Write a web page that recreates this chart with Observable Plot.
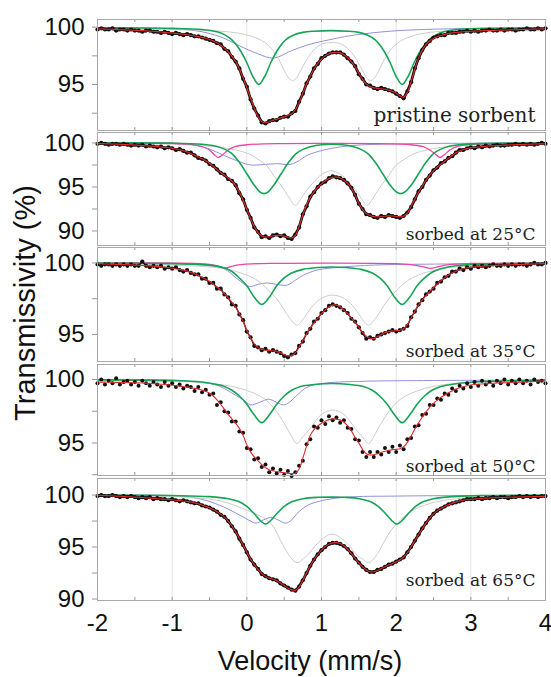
<!DOCTYPE html>
<html><head><meta charset="utf-8">
<script src="https://cdn.jsdelivr.net/npm/d3@7"></script>
<script src="https://cdn.jsdelivr.net/npm/@observablehq/plot@0.6"></script>
<style>
body{margin:0;background:#fff;}
#chart{position:relative;width:551px;height:677px;background:#fff;overflow:hidden;}
#chart svg{position:absolute;left:0;}
</style></head>
<body><div id="chart"></div>
<script>
// ---------- data ----------
const velocity = [
-2,-1.95,-1.9,-1.85,-1.8,-1.75,-1.7,-1.65,-1.6,-1.55,
-1.5,-1.45,-1.4,-1.35,-1.3,-1.25,-1.2,-1.15,-1.1,-1.05,
-1,-0.95,-0.9,-0.85,-0.8,-0.75,-0.7,-0.65,-0.6,-0.55,
-0.5,-0.45,-0.4,-0.35,-0.3,-0.25,-0.2,-0.15,-0.1,-0.05,
0,0.05,0.1,0.15,0.2,0.25,0.3,0.35,0.4,0.45,
0.5,0.55,0.6,0.65,0.7,0.75,0.8,0.85,0.9,0.95,
1,1.05,1.1,1.15,1.2,1.25,1.3,1.35,1.4,1.45,
1.5,1.55,1.6,1.65,1.7,1.75,1.8,1.85,1.9,1.95,
2,2.05,2.1,2.15,2.2,2.25,2.3,2.35,2.4,2.45,
2.5,2.55,2.6,2.65,2.7,2.75,2.8,2.85,2.9,2.95,
3,3.05,3.1,3.15,3.2,3.25,3.3,3.35,3.4,3.45,
3.5,3.55,3.6,3.65,3.7,3.75,3.8,3.85,3.9,3.95,
4];

const panelLabels = ["pristine sorbent","sorbed at 25°C","sorbed at 35°C","sorbed at 50°C","sorbed at 65°C"];
const xTickLabels = [-2,-1,0,1,2,3,4];
const xGrid = [-1,0,1,2,3];
const xMinorTicks = [-1.5,-1,-0.5,0,0.5,1,1.5,2,2.5,3,3.5];
const yTicksP1 = [92.5,95,97.5,100];
const yTicksP2 = [90,92.5,95,97.5,100];
const yTicksP3 = [95,97.5,100];
const yTicksP4 = [92.5,95,97.5,100];
const yTicksP5 = [90,92.5,95,97.5,100];

// Panel 1: pristine sorbent
const p1Fit = [
99.85,99.84,99.83,99.82,99.81,99.8,99.78,99.77,99.76,99.74,
99.73,99.71,99.7,99.68,99.66,99.63,99.61,99.58,99.55,99.52,
99.49,99.46,99.42,99.38,99.34,99.29,99.24,99.18,99.11,99.03,
98.93,98.8,98.63,98.43,98.18,97.87,97.48,96.98,96.36,95.6,
94.72,93.8,92.92,92.2,91.76,91.66,91.76,91.88,91.98,92.08,
92.18,92.3,92.45,92.8,93.4,94.25,95.05,95.75,96.35,96.85,
97.22,97.5,97.68,97.78,97.82,97.76,97.6,97.35,97.0,96.55,
96.0,95.45,95.05,94.82,94.72,94.66,94.62,94.58,94.5,94.4,
94.25,94.02,93.9,94.3,95.25,96.35,97.3,98.0,98.5,98.82,
99.02,99.17,99.28,99.37,99.44,99.5,99.54,99.57,99.6,99.62,
99.64,99.66,99.67,99.69,99.7,99.71,99.72,99.73,99.74,99.75,
99.76,99.77,99.78,99.79,99.8,99.81,99.82,99.83,99.84,99.85,
99.86];
const p1Data = [
99.8,99.9,99.8,99.8,99.9,99.7,99.8,99.8,99.7,99.8,
99.7,99.7,99.6,99.7,99.7,99.6,99.6,99.5,99.6,99.5,
99.4,99.5,99.4,99.3,99.4,99.3,99.2,99.2,99.1,99.0,
98.9,98.8,98.6,98.5,98.1,97.9,97.4,97.0,96.4,95.5,
94.8,93.7,92.9,92.3,91.7,91.6,91.8,91.9,91.9,92.1,
92.2,92.2,92.5,92.7,93.5,94.2,95.1,95.7,96.4,96.8,
97.3,97.5,97.7,97.8,97.8,97.8,97.6,97.3,97.0,96.6,
95.9,95.5,95.0,94.9,94.7,94.6,94.7,94.6,94.5,94.4,
94.2,94.0,93.8,94.4,95.2,96.4,97.3,98.0,98.5,98.8,
99.1,99.2,99.3,99.3,99.5,99.5,99.5,99.6,99.6,99.7,
99.6,99.7,99.6,99.7,99.7,99.8,99.7,99.7,99.8,99.7,
99.8,99.8,99.7,99.8,99.8,99.9,99.8,99.8,99.9,99.8,
99.9];
const p1Green = [[-2,99.95],[-1.5,99.93],[-1,99.9],[-0.6,99.8],[-0.4,99.6],[-0.3,99.35],[-0.2,98.9],[-0.1,98.1],[0,96.9],[0.08,95.7],[0.16,95.0],[0.24,95.7],[0.32,96.9],[0.42,98.1],[0.52,98.9],[0.62,99.3],[0.75,99.55],[0.9,99.65],[1.12,99.7],[1.35,99.65],[1.5,99.55],[1.62,99.3],[1.72,98.9],[1.82,98.1],[1.92,96.9],[2.0,95.7],[2.08,95.0],[2.16,95.7],[2.24,96.9],[2.34,98.1],[2.44,98.9],[2.54,99.35],[2.64,99.6],[2.8,99.8],[3.2,99.9],[4,99.95]];
const p1Gray = [[-2,99.88],[-1.5,99.84],[-1,99.8],[-0.5,99.7],[-0.2,99.56],[0,99.33],[0.1,99.12],[0.2,98.84],[0.3,98.34],[0.4,97.5],[0.5,96.25],[0.56,95.57],[0.61,95.34],[0.66,95.53],[0.72,96.2],[0.82,97.36],[0.92,98.15],[1.02,98.57],[1.135,98.65],[1.25,98.57],[1.35,98.15],[1.45,97.36],[1.55,96.2],[1.61,95.53],[1.66,95.34],[1.71,95.57],[1.77,96.25],[1.87,97.5],[1.97,98.34],[2.07,98.84],[2.17,99.12],[2.27,99.33],[2.47,99.56],[2.77,99.7],[3.27,99.8],[4,99.86]];
const p1Blue = [[-2,99.95],[-1.2,99.9],[-0.76,99.75],[-0.53,99.5],[-0.31,99.05],[-0.09,98.35],[0.14,97.7],[0.36,97.3],[0.58,97.9],[0.81,98.45],[1.03,98.8],[1.25,99.1],[1.48,99.35],[1.92,99.65],[2.37,99.8],[3,99.88],[4,99.92]];

// Panel 2: sorbed at 25 C
const p2Fit = [
99.95,99.93,99.92,99.9,99.89,99.87,99.85,99.83,99.81,99.79,
99.77,99.74,99.71,99.68,99.65,99.62,99.58,99.54,99.5,99.45,
99.39,99.31,99.22,99.11,98.97,98.8,98.61,98.41,98.2,97.97,
97.7,97.35,96.98,96.65,96.33,96.02,95.68,95.15,94.42,93.5,
92.45,91.42,90.5,89.82,89.42,89.3,89.36,89.45,89.5,89.5,
89.4,89.28,89.22,89.5,90.5,91.85,92.95,93.8,94.45,94.95,
95.35,95.7,95.95,96.1,96.12,96.02,95.78,95.42,94.88,94.05,
93.15,92.45,92.0,91.75,91.65,91.6,91.62,91.68,91.72,91.7,
91.65,91.6,91.68,92.02,92.78,93.62,94.4,95.1,95.75,96.35,
96.85,97.25,97.6,97.92,98.25,98.58,98.88,99.1,99.25,99.36,
99.44,99.5,99.55,99.59,99.63,99.66,99.69,99.71,99.73,99.75,
99.77,99.79,99.8,99.82,99.83,99.85,99.86,99.88,99.89,99.9,
99.92];
const p2Data = [
99.9,100.0,99.9,99.8,99.9,99.9,99.8,99.9,99.8,99.7,
99.8,99.7,99.8,99.6,99.7,99.6,99.5,99.6,99.4,99.5,
99.4,99.2,99.3,99.1,98.9,98.9,98.6,98.3,98.2,98.0,
97.6,97.4,97.0,96.6,96.4,95.9,95.7,95.2,94.3,93.6,
92.4,91.5,90.4,89.9,89.3,89.4,89.2,89.5,89.6,89.4,
89.5,89.2,89.1,89.6,90.4,91.9,92.8,93.9,94.4,95.0,
95.4,95.6,96.0,96.2,96.1,96.0,95.8,95.4,94.9,94.1,
93.1,92.5,91.9,91.8,91.6,91.5,91.7,91.6,91.8,91.7,
91.6,91.5,91.7,92.1,92.7,93.6,94.5,95.0,95.8,96.3,
96.9,97.2,97.7,97.9,98.3,98.5,98.9,99.2,99.2,99.4,
99.5,99.4,99.6,99.5,99.7,99.6,99.7,99.8,99.7,99.7,
99.8,99.8,99.9,99.8,99.9,99.8,99.9,99.8,99.9,100.0,
99.9];
const p2Green = [[-2,100],[-1,99.98],[-0.6,99.85],[-0.4,99.6],[-0.3,99.3],[-0.2,98.8],[-0.1,97.8],[0,96.5],[0.1,95.2],[0.18,94.4],[0.23,94.25],[0.28,94.4],[0.36,95.2],[0.46,96.5],[0.56,97.8],[0.66,98.8],[0.76,99.3],[0.86,99.6],[1.0,99.8],[1.14,99.85],[1.28,99.8],[1.42,99.6],[1.52,99.3],[1.62,98.8],[1.72,97.8],[1.82,96.5],[1.92,95.2],[2.01,94.4],[2.06,94.25],[2.11,94.4],[2.2,95.2],[2.3,96.5],[2.4,97.8],[2.5,98.8],[2.6,99.3],[2.7,99.6],[2.9,99.85],[3.3,99.97],[4,100]];
const p2Gray = [[-2,99.95],[-1,99.85],[-0.6,99.7],[-0.3,99.45],[0,98.85],[0.14,98.2],[0.27,97.4],[0.36,96.3],[0.49,94.8],[0.58,93.6],[0.65,92.9],[0.72,93.6],[0.8,94.6],[0.9,95.6],[1.0,96.4],[1.13,96.85],[1.26,96.4],[1.36,95.6],[1.46,94.6],[1.54,93.6],[1.61,92.9],[1.68,93.6],[1.77,94.8],[1.9,96.3],[1.99,97.4],[2.12,98.2],[2.26,98.85],[2.56,99.45],[2.86,99.7],[3.26,99.85],[4,99.95]];
const p2Blue = [[-2,100],[-1,99.95],[-0.75,99.8],[-0.53,99.4],[-0.31,98.6],[-0.09,97.85],[0.05,97.5],[0.23,97.55],[0.4,97.65],[0.58,97.55],[0.67,97.85],[0.81,98.6],[1.03,99.2],[1.25,99.55],[1.48,99.75],[2,99.9],[3,99.97],[4,100]];
const p2Pink = [[-2,100],[-1,99.95],[-0.75,99.85],[-0.6,99.6],[-0.5,99.2],[-0.44,98.7],[-0.38,98.35],[-0.32,98.7],[-0.25,99.2],[-0.15,99.6],[0,99.8],[0.5,99.93],[1.1,99.95],[1.7,99.93],[2.2,99.8],[2.35,99.6],[2.45,99.2],[2.53,98.7],[2.59,98.35],[2.65,98.7],[2.72,99.2],[2.82,99.6],[3.0,99.85],[3.5,99.95],[4,100]];

// Panel 3: sorbed at 35 C
const p3Fit = [
99.95,99.94,99.93,99.92,99.91,99.9,99.89,99.88,99.87,99.86,
99.85,99.84,99.82,99.81,99.79,99.77,99.75,99.73,99.7,99.67,
99.64,99.6,99.55,99.5,99.43,99.35,99.25,99.13,99.0,98.86,
98.7,98.52,98.32,98.1,97.86,97.58,97.25,96.9,96.45,95.9,
95.3,94.75,94.35,94.08,93.95,93.9,93.88,93.86,93.82,93.72,
93.6,93.5,93.52,93.72,94.1,94.6,95.05,95.45,95.8,96.15,
96.45,96.72,96.92,97.05,97.05,96.92,96.7,96.45,96.15,95.85,
95.5,95.15,94.88,94.72,94.72,94.85,95.0,95.12,95.2,95.24,
95.27,95.3,95.4,95.7,96.15,96.62,97.05,97.42,97.72,98.0,
98.27,98.52,98.76,98.96,99.14,99.3,99.42,99.52,99.6,99.65,
99.69,99.72,99.75,99.77,99.79,99.8,99.82,99.83,99.84,99.85,
99.86,99.87,99.88,99.89,99.9,99.91,99.92,99.93,99.94,99.95,
99.96];
const p3Data = [
99.9,99.8,99.9,99.9,99.8,99.9,99.8,99.9,99.8,99.9,
99.8,99.8,100.1,99.8,99.7,99.8,99.7,99.8,99.6,99.7,
99.6,99.7,99.5,99.4,99.5,99.3,99.2,99.2,98.9,98.9,
98.6,98.6,98.2,98.2,97.8,97.6,97.1,97.0,96.4,96.0,
95.2,94.8,94.2,94.1,93.9,94.0,93.8,93.9,93.8,93.7,
93.5,93.4,93.6,93.7,94.2,94.5,95.1,95.4,95.9,96.1,
96.5,96.7,97.0,97.1,97.0,96.9,96.7,96.5,96.1,95.9,
95.5,95.1,94.7,94.8,94.7,94.9,95.0,95.1,95.2,95.3,
95.2,95.3,95.4,95.6,96.2,96.6,97.1,97.4,97.8,98.0,
98.2,98.6,98.7,99.0,99.1,99.4,99.4,99.6,99.5,99.7,
99.6,99.8,99.7,99.8,99.7,99.8,99.9,99.8,99.8,99.9,
99.8,99.9,99.8,99.9,99.9,99.8,99.9,100.0,99.9,99.9,
100.0];
const p3Green = [[-2,100],[-1,99.95],[-0.5,99.85],[-0.3,99.65],[-0.2,99.4],[-0.1,98.95],[0,98.4],[0.1,97.6],[0.2,97.1],[0.3,97.6],[0.4,98.4],[0.5,98.95],[0.6,99.3],[0.75,99.55],[0.95,99.68],[1.14,99.72],[1.33,99.68],[1.53,99.55],[1.68,99.3],[1.78,98.95],[1.88,98.4],[1.98,97.6],[2.08,97.1],[2.18,97.6],[2.28,98.4],[2.38,98.95],[2.48,99.35],[2.6,99.6],[2.8,99.8],[3.2,99.92],[4,99.97]];
const p3Gray = [[-2,99.95],[-1,99.85],[-0.31,99.6],[0,99.15],[0.15,98.75],[0.27,98.2],[0.4,97.5],[0.49,96.8],[0.58,96.1],[0.67,95.65],[0.76,96.1],[0.85,96.8],[0.99,97.5],[1.15,97.75],[1.31,97.5],[1.45,96.8],[1.54,96.1],[1.63,95.65],[1.72,96.1],[1.81,96.8],[1.9,97.5],[2.03,98.2],[2.15,98.75],[2.3,99.15],[2.61,99.6],[3.3,99.85],[4,99.95]];
const p3Blue = [[-2,100],[-1,99.97],[-0.6,99.85],[-0.31,99.6],[-0.13,98.9],[0.03,98.35],[0.15,98.5],[0.27,98.6],[0.4,98.5],[0.54,98.45],[0.65,98.8],[0.76,99.15],[0.94,99.5],[1.25,99.7],[1.7,99.85],[2.5,99.92],[4,99.97]];
const p3Pink = [[-2,100],[-0.7,99.97],[-0.5,99.9],[-0.4,99.8],[-0.29,99.65],[-0.18,99.8],[-0.05,99.9],[0.3,99.97],[2.0,99.95],[2.2,99.88],[2.35,99.75],[2.46,99.62],[2.57,99.75],[2.7,99.88],[3.0,99.96],[4,100]];

// Panel 4: sorbed at 50 C
const p4Fit = [
99.8,99.79,99.79,99.78,99.78,99.77,99.77,99.76,99.76,99.75,
99.74,99.73,99.72,99.71,99.69,99.67,99.65,99.63,99.61,99.58,
99.55,99.52,99.48,99.44,99.4,99.35,99.3,99.24,99.17,99.07,
98.92,98.7,98.4,98.05,97.65,97.25,96.9,96.55,96.15,95.6,
94.85,94.3,93.9,93.6,93.3,93.05,92.9,92.82,92.76,92.7,
92.66,92.62,92.6,92.62,92.95,93.8,94.75,95.6,96.05,96.35,
96.55,96.72,96.84,96.9,96.88,96.8,96.65,96.35,95.95,95.45,
95.0,94.5,94.15,94.05,94.08,94.15,94.25,94.35,94.42,94.48,
94.5,94.55,94.7,95.05,95.55,96.1,96.6,97.05,97.45,97.82,
98.12,98.38,98.6,98.78,98.95,99.1,99.25,99.35,99.43,99.5,
99.56,99.6,99.63,99.65,99.67,99.69,99.7,99.72,99.73,99.74,
99.75,99.77,99.78,99.79,99.8,99.82,99.83,99.84,99.86,99.88,
99.9];
const p4Data = [
99.7,100.0,99.6,99.9,99.7,100.1,99.6,99.8,99.9,99.6,
99.8,99.5,99.9,99.7,99.5,99.8,99.6,99.4,99.8,99.5,
99.7,99.4,99.6,99.3,99.5,99.4,99.1,99.4,99.0,99.2,
98.8,98.9,98.0,98.2,97.5,97.4,96.7,96.7,95.9,95.8,
94.6,94.5,93.7,93.8,93.1,93.3,92.7,93.0,92.6,92.9,
92.5,92.8,92.4,92.7,93.2,93.6,94.9,95.3,96.3,96.2,
96.8,96.5,97.1,96.8,97.0,96.6,96.8,96.2,96.1,95.3,
95.2,94.3,93.9,94.3,93.9,94.3,94.1,94.6,94.3,94.7,
94.3,94.8,94.5,95.3,95.4,96.3,96.4,97.2,97.3,98.0,
98.0,98.5,98.4,98.9,98.8,99.3,99.1,99.5,99.3,99.7,
99.4,99.8,99.5,99.9,99.6,99.8,99.5,99.9,99.7,100.0,
99.6,99.9,99.7,100.0,99.7,99.9,99.6,100.0,99.8,99.9,
99.7];
const p4Green = [[-2,99.97],[-1,99.92],[-0.6,99.8],[-0.4,99.6],[-0.3,99.45],[-0.2,99.15],[-0.1,98.7],[0,98.05],[0.1,97.2],[0.2,96.6],[0.3,97.2],[0.4,98.05],[0.5,98.7],[0.6,99.15],[0.72,99.45],[0.9,99.6],[1.14,99.68],[1.38,99.6],[1.56,99.45],[1.68,99.15],[1.78,98.7],[1.88,98.05],[1.98,97.2],[2.08,96.6],[2.18,97.2],[2.28,98.05],[2.38,98.7],[2.48,99.15],[2.6,99.45],[2.78,99.65],[3.1,99.82],[4,99.95]];
const p4Gray = [[-2,99.95],[-1,99.85],[-0.53,99.72],[-0.09,99.3],[0.23,98.5],[0.4,97.45],[0.54,96.15],[0.61,95.4],[0.67,94.95],[0.74,95.4],[0.85,96.15],[0.99,97.2],[1.15,97.6],[1.31,97.2],[1.45,96.15],[1.56,95.4],[1.63,94.95],[1.69,95.4],[1.76,96.15],[1.9,97.45],[2.07,98.5],[2.39,99.3],[2.83,99.72],[3.3,99.85],[4,99.95]];
const p4Blue = [[-2,100],[-1,99.95],[-0.76,99.85],[-0.4,99.55],[-0.22,99.0],[-0.05,98.4],[0.05,98.0],[0.15,98.15],[0.29,98.45],[0.4,98.2],[0.49,98.0],[0.58,98.25],[0.67,98.75],[0.81,99.4],[1.03,99.7],[1.5,99.85],[2.5,99.92],[4,99.95]];

// Panel 5: sorbed at 65 C
const p5Fit = [
99.98,99.96,99.95,99.93,99.92,99.9,99.88,99.86,99.84,99.82,
99.8,99.78,99.76,99.73,99.7,99.68,99.65,99.62,99.6,99.57,
99.54,99.5,99.47,99.43,99.38,99.33,99.25,99.16,99.05,98.92,
98.77,98.6,98.4,98.16,97.87,97.5,97.02,96.45,95.85,95.2,
94.5,93.85,93.3,92.85,92.45,92.18,92.02,91.9,91.76,91.55,
91.3,91.05,90.88,90.85,91.15,91.8,92.5,93.2,93.8,94.28,
94.7,95.05,95.28,95.4,95.42,95.34,95.12,94.8,94.38,93.92,
93.48,93.1,92.8,92.62,92.62,92.75,92.93,93.1,93.27,93.42,
93.58,93.76,94.05,94.45,95.0,95.6,96.2,96.75,97.3,97.78,
98.18,98.48,98.72,98.9,99.06,99.2,99.32,99.42,99.5,99.55,
99.59,99.62,99.65,99.67,99.7,99.72,99.73,99.75,99.76,99.77,
99.78,99.79,99.8,99.81,99.82,99.83,99.84,99.85,99.86,99.87,
99.88];
const p5Data = [
99.9,100.0,99.9,99.9,100.0,99.9,99.8,99.9,99.8,99.9,
99.8,99.7,99.8,99.7,99.8,99.6,99.7,99.6,99.6,99.5,
99.6,99.5,99.4,99.5,99.4,99.3,99.2,99.2,99.0,98.9,
98.8,98.6,98.4,98.1,97.9,97.5,97.0,96.5,95.8,95.2,
94.5,93.8,93.3,92.9,92.4,92.2,92.0,91.9,91.8,91.5,
91.3,91.1,90.9,90.8,91.2,91.8,92.5,93.2,93.8,94.3,
94.7,95.0,95.3,95.4,95.4,95.3,95.1,94.8,94.4,93.9,
93.5,93.1,92.8,92.6,92.6,92.8,92.9,93.1,93.3,93.4,
93.6,93.8,94.0,94.5,95.0,95.6,96.2,96.8,97.3,97.8,
98.2,98.5,98.7,98.9,99.1,99.2,99.3,99.4,99.5,99.6,
99.6,99.6,99.7,99.6,99.7,99.7,99.8,99.7,99.8,99.8,
99.7,99.8,99.8,99.9,99.8,99.9,99.8,99.9,99.8,99.9,
99.9];
const p5Green = [[-2,100],[-1,99.95],[-0.5,99.85],[-0.25,99.65],[-0.1,99.35],[0,98.9],[0.1,98.2],[0.18,97.55],[0.25,97.2],[0.32,97.55],[0.4,98.2],[0.5,98.9],[0.6,99.35],[0.75,99.65],[0.95,99.78],[1.13,99.8],[1.31,99.78],[1.51,99.65],[1.66,99.35],[1.76,98.9],[1.86,98.2],[1.94,97.55],[2.01,97.2],[2.08,97.55],[2.16,98.2],[2.26,98.9],[2.36,99.35],[2.5,99.65],[2.75,99.85],[3.2,99.95],[4,100]];
const p5Gray = [[-2,99.95],[-1,99.85],[-0.5,99.6],[-0.31,99.35],[0,98.55],[0.27,97.6],[0.37,96.8],[0.45,95.65],[0.58,94.05],[0.67,93.5],[0.76,93.9],[0.81,94.2],[0.99,95.65],[1.14,96.25],[1.3,95.65],[1.48,94.2],[1.54,93.9],[1.63,93.5],[1.72,94.05],[1.85,95.65],[1.93,96.6],[2.03,97.4],[2.19,98.4],[2.46,99.2],[2.81,99.65],[3.3,99.85],[4,99.95]];
const p5Blue = [[-2,100],[-1,99.95],[-0.76,99.8],[-0.53,99.45],[-0.31,98.85],[-0.09,98.05],[0.05,97.5],[0.12,97.3],[0.22,97.6],[0.32,97.85],[0.42,97.6],[0.52,97.3],[0.6,97.6],[0.67,98.2],[0.81,99.0],[1.03,99.5],[1.34,99.8],[2,99.9],[3,99.95],[4,99.97]];

// ---------- layout ----------
const panels = [
  {top:19,  h:111, mb:0,  domain:[90.99,100.67], ticks:yTicksP1, label:panelLabels[0], labelSize:20, labelDy:-9,
   fit:p1Fit, data:p1Data, green:p1Green, gray:p1Gray, blue:p1Blue, pink:null, lw:2.8, r:2.1},
  {top:132, h:113, mb:0,  domain:[88.35,101.19], ticks:yTicksP2, label:panelLabels[1], labelSize:17, labelDy:-6,
   fit:p2Fit, data:p2Data, green:p2Green, gray:p2Gray, blue:p2Blue, pink:p2Pink, lw:2.8, r:2.1},
  {top:247, h:114, mb:0,  domain:[93.11,101.08], ticks:yTicksP3, label:panelLabels[2], labelSize:17, labelDy:-5,
   fit:p3Fit, data:p3Data, green:p3Green, gray:p3Gray, blue:p3Blue, pink:p3Pink, lw:1.4, r:2.1},
  {top:364, h:111, mb:0,  domain:[92.44,101.18], ticks:yTicksP4, label:panelLabels[3], labelSize:17, labelDy:-4,
   fit:p4Fit, data:p4Data, green:p4Green, gray:p4Gray, blue:p4Blue, pink:null, lw:0, r:2.0},
  {top:478, h:122, mb:77, domain:[89.86,101.59], ticks:yTicksP5, label:panelLabels[4], labelSize:17, labelDy:-15,
   fit:p5Fit, data:p5Data, green:p5Green, gray:p5Gray, blue:p5Blue, pink:null, lw:2.8, r:2.1}
];

const sansFont = "'Liberation Sans', Arial, sans-serif";
const serifFont = "'DejaVu Serif', serif";
const chart = document.getElementById("chart");
const toPts = arr => arr.map(([v, t]) => ({v, t}));

panels.forEach((p, k) => {
  const isLast = k === panels.length - 1;
  const fitPts = velocity.map((v, i) => ({v, t: p.fit[i]}));
  const dataPts = velocity.map((v, i) => ({v, t: p.data[i]}));
  const marks = [
    Plot.ruleX(xGrid, {stroke: "#e4e4e4", strokeWidth: 1}),
    Plot.ruleX(xMinorTicks, {stroke: "#999", insetBottom: p.h - 3}),
    Plot.ruleX(xMinorTicks, {stroke: "#999", insetTop: p.h - 3}),
    Plot.line(toPts(p.blue), {x: "v", y: "t", stroke: "#8585d8", strokeWidth: 0.9, curve: "catmull-rom"}),
    Plot.line(toPts(p.gray), {x: "v", y: "t", stroke: "#c6c6c6", strokeWidth: 0.9, curve: "catmull-rom"}),
  ];
  if (p.pink) marks.push(Plot.line(toPts(p.pink), {x: "v", y: "t", stroke: "#ee45a5", strokeWidth: 1.3, curve: "catmull-rom"}));
  marks.push(Plot.line(toPts(p.green), {x: "v", y: "t", stroke: "#17a456", strokeWidth: 1.6, curve: "catmull-rom"}));
  if (p.lw > 0) marks.push(Plot.line(dataPts, {x: "v", y: "t", stroke: "#111", strokeWidth: p.lw}));
  marks.push(
    Plot.dot(dataPts, {x: "v", y: "t", r: p.r, fill: "#111"}),
    Plot.line(fitPts, {x: "v", y: "t", stroke: "#e22a2a", strokeWidth: 1.1, curve: "catmull-rom"}),
    Plot.frame({stroke: "#a8a8a8"}),
    Plot.axisY(p.ticks, {tickSize: 5, tickPadding: 8, stroke: "#999", fill: "#111", fontSize: 24,
      tickFormat: d => (d % 5 === 0 ? String(d) : ""), label: null}),
    Plot.text([p.label], {text: d => d, frameAnchor: "bottom-right", textAnchor: "end", lineAnchor: "bottom",
      dx: -10, dy: p.labelDy, fontSize: p.labelSize, fontFamily: serifFont, fill: "#222"})
  );
  if (isLast) {
    marks.push(Plot.axisX(xTickLabels, {tickSize: 0, tickPadding: 13, fontSize: 24, fill: "#111",
      tickFormat: d => String(d), label: null}));
  }
  const svg = Plot.plot({
    width: 551,
    height: p.h + p.mb,
    marginLeft: 97, marginRight: 6, marginTop: 0, marginBottom: p.mb,
    x: {domain: [-2, 4], label: null, ...(isLast ? {} : {axis: null})},
    y: {domain: p.domain, label: null},
    style: {background: "transparent", overflow: "visible", fontFamily: sansFont},
    marks
  });
  svg.style.position = "absolute";
  svg.style.top = p.top + "px";
  svg.style.left = "0px";
  chart.appendChild(svg);
});

// axis titles
const ov = d3.create("svg").attr("width", 551).attr("height", 677)
  .style("position", "absolute").style("left", "0px").style("top", "0px").style("pointer-events", "none");
ov.append("text").attr("transform", "translate(35,303) rotate(-90)").attr("text-anchor", "middle")
  .attr("font-family", sansFont).attr("font-size", 29).attr("fill", "#111").text("Transmissivity (%)");
ov.append("text").attr("x", 310).attr("y", 670).attr("text-anchor", "middle")
  .attr("font-family", sansFont).attr("font-size", 27).attr("fill", "#111").text("Velocity (mm/s)");
chart.appendChild(ov.node());
</script>
</body></html>
